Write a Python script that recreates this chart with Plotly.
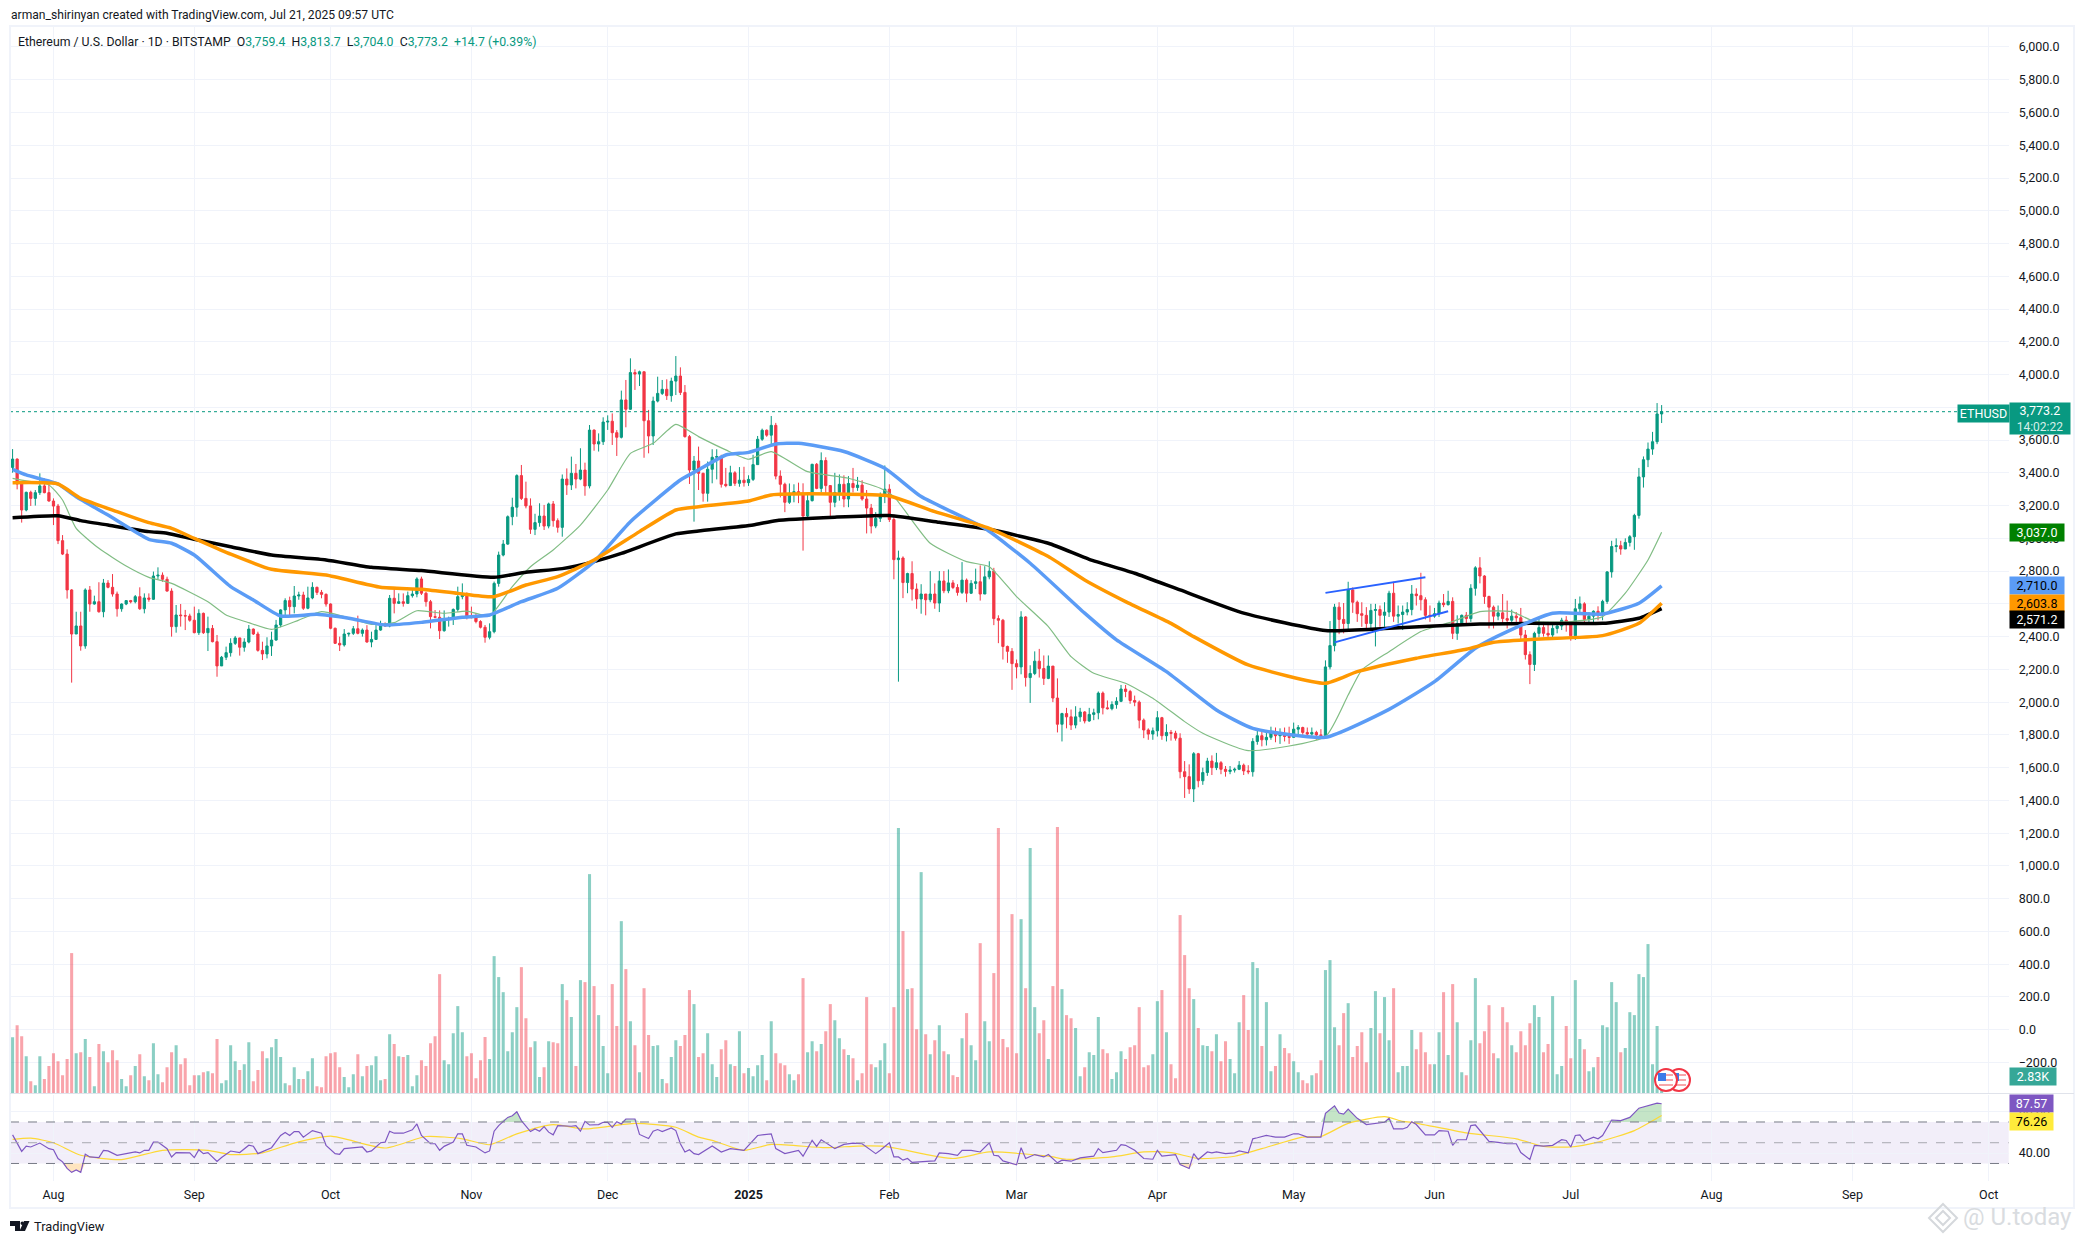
import pandas as pd
import plotly.graph_objects as go

W = 2084
H = 1244

# daily candles, first one is 2024-07-23
first_open = 3433
closes = [
    3484, 3332, 3173, 3281, 3244, 3279, 3320, 3279, 3228, 3197,
    2986, 2904, 2685, 2416, 2465, 2343, 2685, 2599, 2613, 2552,
    2727, 2701, 2660, 2570, 2599, 2620, 2613, 2644, 2570, 2636,
    2628, 2770, 2775, 2750, 2678, 2461, 2532, 2528, 2526, 2500,
    2424, 2542, 2424, 2450, 2369, 2221, 2274, 2302, 2359, 2392,
    2335, 2367, 2446, 2416, 2316, 2294, 2343, 2379, 2471, 2563,
    2620, 2583, 2648, 2654, 2573, 2636, 2701, 2670, 2658, 2599,
    2451, 2359, 2349, 2416, 2420, 2448, 2420, 2440, 2367, 2383,
    2440, 2475, 2465, 2634, 2603, 2613, 2603, 2650, 2660, 2752,
    2665, 2613, 2522, 2518, 2436, 2505, 2511, 2566, 2644, 2660,
    2518, 2516, 2492, 2457, 2396, 2430, 2725, 2898, 2965, 3132,
    3190, 3383, 3244, 3198, 3055, 3096, 3136, 3075, 3210, 3108,
    3067, 3362, 3326, 3397, 3362, 3417, 3320, 3661, 3576, 3590,
    3710, 3715, 3645, 3617, 3845, 3788, 4012, 4003, 4017, 3718,
    3625, 3838, 3885, 3910, 3871, 3960, 3991, 3891, 3621, 3417,
    3472, 3397, 3275, 3422, 3495, 3499, 3330, 3322, 3400, 3336,
    3355, 3340, 3360, 3450, 3605, 3660, 3630, 3690, 3380, 3330,
    3220, 3275, 3285, 3270, 3136, 3230, 3452, 3305, 3475, 3322,
    3220, 3280, 3330, 3240, 3335, 3310, 3325, 3240, 3185, 3075,
    3122, 3255, 3300, 3115, 2870, 2880, 2730, 2785, 2690, 2630,
    2660, 2625, 2660, 2605, 2740, 2680, 2728, 2700, 2670, 2745,
    2665, 2725, 2735, 2660, 2765, 2800, 2510, 2500, 2340, 2310,
    2235, 2215, 2520, 2150, 2175, 2250, 2205, 2145, 2220, 2025,
    1865, 1930, 1910, 1860, 1910, 1940, 1885, 1925, 1935, 2055,
    1965, 1960, 1985, 2005, 2080, 2065, 2010, 2000, 1890, 1830,
    1805, 1825, 1905, 1795, 1815, 1810, 1780, 1575, 1545, 1470,
    1685, 1520, 1570, 1640, 1600, 1630, 1590, 1577, 1585, 1590,
    1615, 1580, 1575, 1760, 1795, 1770, 1785, 1820, 1795, 1800,
    1790, 1785, 1835, 1845, 1815, 1805, 1815, 1800, 1795, 2215,
    2345, 2580, 2505, 2480, 2685, 2610, 2540, 2530, 2480, 2560,
    2565, 2530, 2550, 2665, 2525, 2535, 2550, 2565, 2660, 2650,
    2625, 2530, 2525, 2540, 2605, 2595, 2615, 2420, 2480, 2530,
    2510, 2695, 2820, 2770, 2645, 2580, 2525, 2545, 2510, 2500,
    2525, 2515, 2410, 2290, 2230, 2420, 2455, 2420, 2410, 2450,
    2465, 2500, 2485, 2405, 2570, 2600, 2505, 2525, 2555, 2535,
    2615, 2795, 2950, 2955, 2935, 2975, 3010, 3140, 3375, 3480,
    3545, 3590, 3759.4, 3773.2,
]
highs = [
    3545, 3488, 3346, 3285, 3291, 3295, 3397, 3366, 3356, 3244,
    3210, 3020, 2933, 2690, 2552, 2552, 2695, 2709, 2650, 2732,
    2752, 2745, 2782, 2675, 2603, 2620, 2624, 2654, 2701, 2664,
    2664, 2797, 2823, 2792, 2766, 2695, 2593, 2599, 2563, 2540,
    2583, 2567, 2547, 2522, 2471, 2410, 2282, 2339, 2390, 2404,
    2390, 2390, 2471, 2450, 2430, 2369, 2396, 2430, 2502, 2567,
    2634, 2644, 2709, 2674, 2674, 2705, 2732, 2705, 2685, 2664,
    2603, 2455, 2400, 2446, 2424, 2465, 2528, 2450, 2470, 2430,
    2470, 2497, 2487, 2654, 2695, 2664, 2664, 2675, 2685, 2762,
    2766, 2674, 2624, 2562, 2560, 2560, 2522, 2572, 2705, 2725,
    2670, 2583, 2542, 2500, 2471, 2481, 2736, 2919, 2990, 3140,
    3248, 3391, 3448, 3346, 3244, 3150, 3214, 3204, 3218, 3228,
    3122, 3390, 3427, 3499, 3454, 3550, 3462, 3692, 3665, 3641,
    3739, 3751, 3763, 3661, 3902, 3967, 4099, 4032, 4024, 4012,
    3784, 3865, 3987, 3967, 3971, 3981, 4113, 4044, 3936, 3631,
    3503, 3560, 3401, 3469, 3544, 3544, 3510, 3430, 3443, 3410,
    3435, 3437, 3385, 3510, 3625, 3670, 3665, 3747, 3705, 3415,
    3340, 3335, 3330, 3340, 3336, 3280, 3455, 3460, 3525, 3495,
    3325, 3400, 3390, 3385, 3380, 3430, 3375, 3355, 3295, 3210,
    3160, 3280, 3445, 3330, 3145, 2925, 2890, 2790, 2860, 2725,
    2720, 2655, 2800, 2725, 2800, 2800, 2810, 2745, 2720, 2855,
    2755, 2745, 2815, 2835, 2830, 2860, 2820, 2530, 2508, 2345,
    2330, 2260, 2555, 2525, 2225, 2310, 2325, 2285, 2285, 2215,
    2145, 1935, 1965, 1955, 1975, 1965, 1945, 1965, 1960, 2065,
    2065, 2010, 2005, 2030, 2105, 2105, 2075, 2040, 2010, 1900,
    1840, 1845, 1945, 1910, 1865, 1830, 1825, 1810, 1640, 1620,
    1695, 1690, 1600, 1660, 1675, 1690, 1640, 1610, 1610, 1600,
    1640, 1625, 1615, 1780, 1835, 1820, 1830, 1850, 1845, 1840,
    1845, 1850, 1875, 1860, 1850, 1845, 1845, 1825, 1835, 2255,
    2495, 2600, 2610, 2605, 2735, 2700, 2620, 2610, 2580, 2600,
    2600, 2590, 2610, 2680, 2735, 2590, 2590, 2610, 2715, 2695,
    2790, 2640, 2590, 2575, 2620, 2660, 2680, 2640, 2530, 2535,
    2550, 2720, 2830, 2885, 2775, 2650, 2590, 2590, 2660, 2620,
    2565, 2550, 2575, 2440, 2310, 2430, 2510, 2490, 2490, 2480,
    2475, 2515, 2525, 2495, 2630, 2645, 2610, 2550, 2560, 2585,
    2625, 2800, 2985, 3000, 2985, 3000, 3020, 3150, 3430, 3500,
    3585, 3650, 3826, 3813.7,
]
lows = [
    3401, 3299, 3096, 3165, 3198, 3200, 3265, 3275, 3224, 3081,
    2965, 2898, 2632, 2119, 2416, 2314, 2326, 2552, 2595, 2546,
    2518, 2695, 2644, 2522, 2552, 2592, 2603, 2603, 2563, 2542,
    2613, 2624, 2750, 2735, 2675, 2400, 2424, 2461, 2440, 2491,
    2420, 2410, 2416, 2312, 2365, 2155, 2221, 2257, 2278, 2349,
    2284, 2308, 2359, 2410, 2308, 2257, 2267, 2282, 2375, 2457,
    2526, 2526, 2542, 2625, 2563, 2567, 2628, 2654, 2634, 2583,
    2445, 2355, 2312, 2339, 2400, 2410, 2414, 2400, 2363, 2335,
    2380, 2436, 2460, 2457, 2542, 2599, 2583, 2599, 2638, 2640,
    2654, 2583, 2450, 2512, 2385, 2430, 2461, 2471, 2552, 2628,
    2505, 2512, 2481, 2450, 2363, 2383, 2420, 2705, 2890, 2960,
    3080, 3132, 3234, 3183, 3027, 3020, 3071, 3051, 3061, 3071,
    3035, 3010, 3265, 3295, 3305, 3355, 3260, 3305, 3535, 3530,
    3570, 3662, 3570, 3503, 3610, 3678, 3784, 3906, 3930, 3492,
    3519, 3570, 3830, 3875, 3845, 3834, 3875, 3875, 3615, 3332,
    3102, 3295, 3224, 3224, 3336, 3360, 3310, 3312, 3320, 3320,
    3315, 3316, 3320, 3350, 3450, 3595, 3620, 3575, 3360, 3250,
    3160, 3210, 3220, 3215, 2925, 3130, 3225, 3300, 3280, 3270,
    3120, 3190, 3230, 3190, 3190, 3280, 3290, 3230, 3030, 3030,
    3062, 3100, 3215, 3100, 2750, 2125, 2635, 2665, 2620, 2570,
    2540, 2530, 2610, 2570, 2550, 2665, 2665, 2690, 2650, 2660,
    2610, 2660, 2690, 2620, 2660, 2750, 2470, 2360, 2260, 2240,
    2075, 2145, 2170, 2095, 1995, 2165, 2150, 2105, 2140, 2000,
    1815, 1760, 1840, 1830, 1840, 1880, 1870, 1880, 1890, 1895,
    1925, 1955, 1950, 1960, 2000, 2030, 1990, 1975, 1840, 1780,
    1770, 1770, 1790, 1770, 1760, 1765, 1765, 1535, 1415, 1440,
    1390, 1480, 1495, 1550, 1555, 1585, 1560, 1545, 1560, 1570,
    1585, 1555, 1560, 1545, 1740, 1730, 1735, 1770, 1755, 1745,
    1760, 1745, 1790, 1800, 1800, 1790, 1795, 1770, 1780, 1780,
    2200, 2310, 2415, 2420, 2430, 2545, 2490, 2460, 2440, 2440,
    2340, 2460, 2460, 2520, 2490, 2480, 2440, 2530, 2530, 2590,
    2560, 2505, 2490, 2515, 2520, 2580, 2590, 2385, 2380, 2470,
    2470, 2490, 2650, 2725, 2600, 2450, 2450, 2500, 2480, 2450,
    2470, 2490, 2380, 2260, 2110, 2190, 2395, 2400, 2390, 2380,
    2420, 2440, 2430, 2375, 2380, 2540, 2480, 2475, 2480, 2500,
    2500, 2600, 2760, 2915, 2900, 2935, 2950, 2930, 3120, 3310,
    3435, 3510, 3575, 3704,
]
# volume in thousands
volumes = [
    48.1, 58.4, 49, 31.9, 10.5, 7.1, 31.9, 12.3, 23.4, 34.5,
    27.6, 15.7, 29.4, 120, 34.5, 35.3, 46.5, 31.1, 6.3, 42.2,
    36.2, 26.8, 37, 28.5, 12.3, 6.3, 15.7, 23.4, 33.6, 14.8,
    11.4, 43, 16.5, 9.7, 22.5, 35.3, 41.3, 25.1, 30.2, 7.1,
    15.7, 15.7, 18.2, 19.1, 17.4, 46.5, 8.8, 11.4, 41.3, 27.6,
    20, 25.1, 43.9, 10.5, 20, 36.2, 30.2, 39.6, 46.5, 31.1,
    8.8, 7.1, 22.5, 12.3, 12.3, 19.1, 30.2, 6.3, 5.4, 31.9,
    34.5, 35.3, 22.5, 14, 5.4, 16.5, 33.6, 14.8, 23.4, 24.2,
    31.9, 11.4, 12.3, 50.7, 42.2, 31.9, 31.1, 32.8, 6.3, 15.7,
    28.5, 23.4, 43, 49, 102, 28.5, 25.1, 51.6, 74.7, 52.4,
    31.9, 34.5, 13.1, 28.5, 48.2, 29.4, 117.4, 99.5, 86.6, 36.2,
    52.4, 73.8, 108, 64.4, 39.6, 44.7, 14, 22.5, 44.7, 43.9,
    43, 93.5, 79.8, 65.3, 23.4, 96.9, 95.2, 187.5, 91.8, 67,
    40.5, 17.4, 93.5, 57.6, 147.3, 106.3, 61.8, 41.3, 18.2, 90,
    49.9, 40.5, 41.3, 12.3, 8.8, 31.1, 45.6, 40.5, 49.9, 88.4,
    76.4, 31.1,
    34.5, 51.6, 25.1, 14, 37.9, 45.6, 25.1, 23.4, 53.3, 17.4,
    21.7, 14.8, 24.2, 32.8, 11.4, 61.8, 34.5, 25.9, 24.2, 16.5,
    11.4, 16.5, 98.6, 35.3, 44.7, 36.2, 42.2, 53.3, 76.4, 62.7,
    47.3, 37.9, 32.8, 30.2, 11.4, 17.4, 82.4, 25.1, 22.5, 28.5,
    43, 17.4, 73.8, 226.9, 138.8, 89.2, 90, 55, 189.2, 50.7,
    33.6, 45.6, 58.4, 36.2, 33.6, 15.7, 14, 47.3, 68.7, 41.3,
    28.5, 128.5, 61.8, 44.7, 102.9, 226.9, 46.5, 39.6, 153.3, 34.5,
    149, 90, 209.8, 73.8, 51.6, 62.7, 29.4, 91.8, 227.7, 89.2,
    67, 64.4, 55.9, 14.8, 22.5, 35.3, 32.8, 65.3, 37.9, 34.5,
    12.3, 18.2, 36.2, 29.4, 39.6, 41.3, 73.8, 22.5, 24.2, 33.6,
    78.9, 88.4, 52.4, 25.1, 13.1, 152.5, 118.3, 90, 80.7, 55.9,
    41.3, 40.5, 36.2, 50.7, 27.6, 44.7, 29.4, 17.4, 61, 84.1,
    54.2, 112.3, 107.2, 40.5, 78.1, 19.1, 23.4, 50.7, 38.8, 34.5,
    27.6, 18.2, 11.4, 8.8, 15.7, 17.4, 28.5, 105.5, 114, 56.7,
    41.3, 68.7, 77.2, 31.1, 40.5, 52.4, 26.8, 55.9, 87.5, 51.6,
    82.4, 45.6, 90, 18.2,
    23.4, 23.4, 54.2, 37.9, 52.4, 35.3, 25.1, 25.1, 52.4, 86.6,
    32.8, 93.5, 61, 18.2, 15.7, 45.6, 98.6, 43, 53.3, 75.5,
    34.5, 30.2, 73.8, 61, 41.3, 35.3, 53.3, 41.3, 60.1, 75.5,
    65.3, 35.3, 42.2, 83.2, 16.5, 23.4, 57.6, 30.2, 96.9, 46.5,
    37.9, 19.1, 22.5, 31.1, 58.4, 56.7, 95.2, 78.1, 35.3, 38.8,
    69.5, 67, 102, 99.5, 127.7, 25.1, 57.6, 2.83,
]

# moving averages, sampled by candle number
ma_black_days = [0, 10, 15, 21, 30, 34, 40, 48, 57, 69, 79, 90, 106, 113, 121, 128, 134, 146,
                 151, 163, 168, 181, 193, 204, 215, 228, 237, 247, 257, 271, 289,
                 303, 323, 334, 350, 358, 363]
ma_black = [3126, 3138, 3108, 3081, 3041, 3031, 2994, 2949, 2898, 2868, 2823, 2803, 2762, 2793, 2815, 2858, 2908, 3027,
            3045, 3082, 3108, 3129, 3139, 3098, 3055, 2970, 2872, 2787, 2685, 2543, 2437,
            2451, 2477, 2481, 2481, 2512, 2571.2]
ma_orange_days = [0, 10, 15, 23, 30, 35, 40, 48, 57, 69, 81, 90, 98, 106, 113, 120, 128, 138, 146, 151,
                  162, 167, 181, 193, 203, 215, 228, 236, 245, 255, 260, 272, 289,
                  296, 309, 320, 326, 335, 350, 358, 363]
ma_orange = [3340, 3332, 3244, 3163, 3096, 3061, 3000, 2904, 2811, 2776, 2701, 2689, 2664, 2644, 2715, 2766, 2868, 3041, 3173, 3193,
             3228, 3265, 3271, 3259, 3163, 3061, 2889, 2746, 2614, 2481, 2400, 2227, 2115,
             2186, 2268, 2323, 2365, 2384, 2406, 2481, 2603.8]
ma_blue_days = [0, 3, 10, 14, 21, 30, 35, 40, 48, 53, 59, 67, 74, 82, 90, 99, 105, 112, 120, 128, 136, 147,
                151, 157, 162, 168, 173, 183, 192, 200, 214, 224, 236, 243, 254, 265, 273, 289,
                303, 313, 322, 329, 339, 350, 358, 363]
ma_blue = [3421, 3387, 3332, 3254, 3142, 2994, 2970, 2898, 2705, 2624, 2526, 2536, 2512, 2471, 2487, 2518, 2532, 2613, 2695, 2858, 3102, 3356,
           3418, 3509, 3525, 3576, 3580, 3530, 3428, 3255, 3061, 2848, 2543, 2380, 2186, 1952, 1840, 1785,
           1956, 2125, 2329, 2430, 2543, 2538, 2604, 2710]
ma_green_days = [0, 2, 8, 11, 14, 19, 25, 30, 35, 43, 47, 52, 57, 63, 68, 73, 79, 84, 89, 95, 100, 105, 110, 114, 119, 125, 131, 136, 141, 146,
                 151, 157, 162, 167, 175, 184, 191, 194, 202, 210, 215, 221, 228, 233, 238, 245, 251, 258, 262, 272, 289,
                 294, 297, 303, 310, 317, 323, 330, 335, 343, 350, 355, 360, 363]
ma_green = [3366, 3356, 3326, 3234, 3061, 2939, 2831, 2762, 2725, 2613, 2532, 2485, 2444, 2501, 2552, 2522, 2475, 2485, 2558, 2542, 2556, 2526, 2705, 2827, 2929, 3081, 3295, 3519, 3580, 3696,
            3621, 3540, 3483, 3530, 3407, 3367, 3306, 3255, 2970, 2858, 2827, 2644, 2461, 2278, 2176, 2115, 2024, 1881, 1810, 1704, 1790,
            2044, 2196, 2308, 2431, 2492, 2553, 2553, 2492, 2492, 2522, 2665, 2868, 3037]

rsi_days = [0, 1, 2, 3, 4, 6, 8, 9, 10, 11, 12, 13, 14, 15, 16, 17, 19, 20, 21, 23,
            27, 28, 29, 30, 31, 32, 34, 35, 36, 39, 40, 41, 42, 43, 45, 46, 48, 50, 52, 53,
            54, 57, 59, 60, 61, 62, 63, 64, 66, 68, 69, 71, 72, 73, 75, 77, 78, 79, 81, 82,
            83, 84, 86, 88, 89, 90, 92, 93, 94, 95, 97, 98, 99, 100, 102, 104, 105, 106, 107, 109,
            110, 111, 112, 114, 115, 116, 117, 118, 119, 120, 123, 124, 125, 126, 127, 129, 130, 131, 132, 133,
            134, 135, 137, 138, 140, 141, 142, 143, 145, 146, 147, 148, 149, 150,
            151, 154, 156, 158, 161, 164, 167, 168, 170, 173, 174, 176, 177, 178, 181, 183, 185, 187, 190, 191,
            193, 194, 195, 196, 197, 198, 202, 203, 204, 206, 208, 209, 211, 213, 215, 216, 217, 218, 221, 222,
            223, 225, 227, 228, 230, 231, 233, 235, 238, 239, 240, 243, 244, 245, 247, 249, 251, 252, 253, 256,
            257, 259, 260, 261, 263, 264, 265, 267, 269, 270, 272, 273, 274, 276, 278, 280, 282, 283, 285, 288,
            289, 291, 292, 293, 294, 296, 298, 300, 302, 303, 304, 306,
            307, 308, 309, 311, 313, 314, 316, 317, 318, 320, 321, 322, 323, 325, 327, 329, 331, 332, 334, 335,
            337, 339, 341, 342, 343, 344, 345, 346, 348, 349, 350, 352, 354, 356, 358, 360, 362, 363]
rsi = [57.6, 49, 41.7, 46.8, 45.9, 49.7, 44.3, 43.3, 34.8, 31.6, 25.2, 21.4, 23.7, 21.4, 38.9, 36.3, 35.7, 42.7, 42.1, 37.9,
       41.1, 40.2, 42.7, 42.7, 50.6, 50.6, 44.3, 36.3, 40.5, 40.2, 35.7, 43.3, 39.5, 40.5, 31.9, 35.7, 42, 40.5, 47.6, 46.7,
       39.5, 45.2, 57, 59.8, 57, 60.8, 60.8, 55.4, 61.7, 59.2, 47.5, 39.5, 38.9, 44.3, 45.2, 45.9, 41.1, 42.1, 50, 50.6,
       61.1, 59.2, 59.2, 62.4, 68.1, 57, 49, 49, 42.7, 46.5, 50.6, 58.6, 58.6, 47.5, 45.9, 40.2, 42.1, 61.1, 66.5, 74.4,
       76, 79.8, 71.3, 60.8, 63.3, 61.1, 65.5, 60.2, 57.6, 66.5, 65.9, 66.5, 61.1, 70.6, 67.1, 67.5, 69.7, 69.7, 64.9, 70.3,
       68.1, 72.9, 72.9, 58, 54, 61.1, 62.7, 60.8, 64.3, 61.7, 49, 41.1, 43.3, 39.5,
       38.6, 46.8, 41.1, 44.3, 42.7, 57, 58.6, 44.3, 39.5, 42.7, 37, 52.2, 46.5, 52.9, 44.3, 48.4, 49.7, 49, 39.5, 42.7,
       50, 36.3, 36.3, 33.2, 34.8, 31, 32.2, 32.5, 40.2, 39.5, 37.9, 42.7, 42.7, 41.1, 50, 37.9, 37.3, 32.5, 28.7, 45.2,
       34.8, 38.6, 36.3, 38.6, 30.6, 33.2, 32.2, 35.4, 37, 44.3, 40.5, 42.7, 48.1, 47.5, 42.7, 34.8, 34.1, 42.7, 37, 38.6,
       29, 25.2, 39.5, 33.8, 41.1, 40.2, 41.1, 39.5, 40.2, 42.1, 40.2, 53.8, 54.8, 57, 55.4, 55.4, 58.6, 58.6, 55.4, 55.4,
       78.3, 85.6, 78.6, 77.6, 82.4, 73.5, 67.5, 68.7, 69.7, 73.5, 63.3, 63.3,
       64.9, 70.3, 67.5, 57.6, 57.6, 61.7, 61.1, 47.5, 52.9, 52.9, 66.5, 67.1, 61.7, 51.3, 50.3, 49, 49, 40.5, 33.8, 47.5,
       46.8, 47.5, 52.9, 52.2, 45.9, 57, 57.6, 51.6, 55.4, 53.8, 57, 71.9, 71.3, 74.4, 83.3, 85.6, 88.1, 87.57]
rsi_ma_days = [0, 4, 9, 15, 24, 33, 43, 48, 55, 62, 70, 82, 91, 99, 105, 111, 119, 126, 137, 146, 151,
               154, 161, 167, 179, 186, 192, 207, 215, 228, 232, 242, 249, 255, 261, 269, 275, 284, 288, 294, 302, 306,
               308, 320, 331, 337, 343, 349, 357, 363]
rsi_ma = [53.2, 54.4, 50, 37.9, 33.8, 42.7, 42.7, 38.6, 40.2, 49.7, 56.3, 44.9, 56, 53.8, 48.1, 58.6, 67.5, 63.3, 68.7, 64.9, 55.4,
          52.2, 42.7, 48.4, 45.2, 46.8, 46.5, 34.8, 41.1, 37, 34.1, 36.3, 41.1, 40.5, 34.8, 37, 44.3, 55.4, 56, 68.7, 75.1, 70.6,
          69.7, 59.5, 53.8, 46.5, 45.9, 50.6, 61.7, 76.26]

# axis labels
price_ticks = list(range(-200, 6200, 200))
month_ticks = ['2024-08-01', '2024-09-01', '2024-10-01', '2024-11-01', '2024-12-01', '2025-01-01', '2025-02-01',
               '2025-03-01', '2025-04-01', '2025-05-01', '2025-06-01', '2025-07-01', '2025-08-01', '2025-09-01', '2025-10-01']
month_labels = ['Aug', 'Sep', 'Oct', 'Nov', 'Dec', '<b>2025</b>', 'Feb', 'Mar', 'Apr', 'May', 'Jun', 'Jul', 'Aug', 'Sep', 'Oct']

assert len(closes) == len(highs) == len(lows) == len(volumes)
assert len(ma_black_days) == len(ma_black) and len(ma_orange_days) == len(ma_orange)
assert len(ma_blue_days) == len(ma_blue) and len(ma_green_days) == len(ma_green)
assert len(rsi_days) == len(rsi) and len(rsi_ma_days) == len(rsi_ma)

UP = '#089981'
DOWN = '#F23645'
GRID = '#f0f3fa'
TEXT = '#131722'
FONT = 'Roboto'

dates = pd.date_range('2024-07-23', periods=len(closes), freq='D')
opens = [first_open] + closes[:-1]
vol_colors = ['rgba(8,153,129,0.47)' if c >= o else 'rgba(242,54,69,0.45)' for o, c in zip(opens, closes)]


def px_x(v):
    return v / W


def px_y(v):
    return 1 - v / H


def on(days):
    return [dates[d] for d in days]


fig = go.Figure()
fig.add_bar(x=dates, y=volumes, marker=dict(color=vol_colors, line_width=0), width=58000000, yaxis='y')
fig.add_candlestick(x=dates, open=opens, high=highs, low=lows, close=closes, yaxis='y2',
                    increasing=dict(line=dict(color=UP, width=1), fillcolor=UP),
                    decreasing=dict(line=dict(color=DOWN, width=1), fillcolor=DOWN))
fig.add_scatter(x=on(ma_green_days), y=ma_green, yaxis='y2', mode='lines', line=dict(color='#81bd84', width=1.2, shape='spline', smoothing=0.5))
fig.add_scatter(x=on(ma_black_days), y=ma_black, yaxis='y2', mode='lines', line=dict(color='#000000', width=3.5, shape='spline', smoothing=0.5))
fig.add_scatter(x=on(ma_blue_days), y=ma_blue, yaxis='y2', mode='lines', line=dict(color='#5b9cf6', width=3.5, shape='spline', smoothing=0.5))
fig.add_scatter(x=on(ma_orange_days), y=ma_orange, yaxis='y2', mode='lines', line=dict(color='#ff9800', width=3.5, shape='spline', smoothing=0.5))
fig.add_scatter(x=['2025-05-08', '2025-05-30'], y=[2667, 2762], yaxis='y2', mode='lines', line=dict(color='#2962ff', width=2))
fig.add_scatter(x=['2025-05-10', '2025-06-04'], y=[2365, 2555], yaxis='y2', mode='lines', line=dict(color='#2962ff', width=2))

# rsi pane, fills beyond the bands first
rsi_x = on(rsi_days)
fig.add_scatter(x=rsi_x, y=[70] * len(rsi), yaxis='y3', mode='lines', line=dict(width=0))
fig.add_scatter(x=rsi_x, y=[max(v, 70) for v in rsi], yaxis='y3', mode='lines', line=dict(width=0),
                fill='tonexty', fillcolor='rgba(76,175,80,0.32)')
fig.add_scatter(x=rsi_x, y=[30] * len(rsi), yaxis='y3', mode='lines', line=dict(width=0))
fig.add_scatter(x=rsi_x, y=[min(v, 30) for v in rsi], yaxis='y3', mode='lines', line=dict(width=0),
                fill='tonexty', fillcolor='rgba(255,152,0,0.25)')
fig.add_scatter(x=on(rsi_ma_days), y=rsi_ma, yaxis='y3', mode='lines', line=dict(color='#fdd835', width=1.2, shape='spline', smoothing=0.6))
fig.add_scatter(x=rsi_x, y=rsi, yaxis='y3', mode='lines', line=dict(color='#7e57c2', width=1.2))

shapes = [
    # rsi band and levels
    dict(type='rect', xref='x domain', yref='y3', x0=0, x1=1, y0=30, y1=70, fillcolor='rgba(126,87,194,0.1)', line_width=0, layer='below'),
    dict(type='line', xref='x domain', yref='y3', x0=0, x1=1, y0=70, y1=70, line=dict(color='#787b86', width=1, dash='dash')),
    dict(type='line', xref='x domain', yref='y3', x0=0, x1=1, y0=50, y1=50, line=dict(color='#a8a9b0', width=1, dash='dash')),
    dict(type='line', xref='x domain', yref='y3', x0=0, x1=1, y0=30, y1=30, line=dict(color='#787b86', width=1, dash='dash')),
    # last price
    dict(type='line', xref='x domain', yref='y2', x0=0, x1=1, y0=closes[-1], y1=closes[-1], line=dict(color=UP, width=1, dash='dot')),
    # chart frame
    dict(type='rect', xref='paper', yref='paper', x0=px_x(10), x1=px_x(2074), y0=px_y(1208), y1=px_y(26), line=dict(color=GRID, width=2)),
    dict(type='line', xref='paper', yref='paper', x0=px_x(10), x1=px_x(2074), y0=px_y(1093.5), y1=px_y(1093.5), line=dict(color='#e0e3eb', width=1)),
]


def pane_path(points):
    return 'M' + ' L'.join(f'{px_x(a)},{px_y(b)}' for a, b in points) + ' Z'


# TradingView logo
for pts in ([(10, 1221), (20, 1221), (20, 1231), (15, 1231), (15, 1226), (10, 1226)],
            [(24, 1221), (29.5, 1221), (25, 1231), (19.5, 1231)]):
    shapes.append(dict(type='path', xref='paper', yref='paper', path=pane_path(pts), fillcolor=TEXT, line_width=0))
shapes.append(dict(type='circle', xref='paper', yref='paper', x0=px_x(20.5), x1=px_x(24), y0=px_y(1225), y1=px_y(1221.5), fillcolor=TEXT, line_width=0))

# watermark diamond
for size in (14, 7):
    shapes.append(dict(type='path', xref='paper', yref='paper',
                       path=pane_path([(1943, 1218 - size), (1943 + size, 1218), (1943, 1218 + size), (1943 - size, 1218)]),
                       line=dict(color='#d5d8dc', width=2)))

# flags at the end of the volume pane
for cx in (1679, 1666):
    shapes.append(dict(type='circle', xref='paper', yref='paper', x0=px_x(cx - 11), x1=px_x(cx + 11), y0=px_y(1091), y1=px_y(1069),
                       fillcolor='#ffffff', line=dict(color='#f23645', width=2)))
    for dy in (-5, 0, 5):
        shapes.append(dict(type='line', xref='paper', yref='paper', x0=px_x(cx - 7), x1=px_x(cx + 7), y0=px_y(1080 + dy), y1=px_y(1080 + dy),
                           line=dict(color='#f7a6a9', width=2)))
    shapes.append(dict(type='rect', xref='paper', yref='paper', x0=px_x(cx - 8), x1=px_x(cx), y0=px_y(1081), y1=px_y(1073),
                       fillcolor='#3d7be8', line_width=0))


def tag(text, yref, y, bg, color='#ffffff', x=2009, width=54, height=17, yshift=0, size=12.5):
    return dict(text=text, xref='paper', yref=yref, x=px_x(x), y=y, xanchor='left', yanchor='middle', showarrow=False,
                bgcolor=bg, width=width, height=height, yshift=yshift, align='center', borderpad=0,
                font=dict(family=FONT, size=size, color=color))


green_span = "<span style='color:#089981'>"
legend_text = ("Ethereum / U.S. Dollar · 1D · BITSTAMP&nbsp;&nbsp;"
               f"O{green_span}3,759.4</span>&nbsp;&nbsp;H{green_span}3,813.7</span>&nbsp;&nbsp;"
               f"L{green_span}3,704.0</span>&nbsp;&nbsp;C{green_span}3,773.2</span>&nbsp;&nbsp;{green_span}+14.7 (+0.39%)</span>")

annotations = [
    dict(text='arman_shirinyan created with TradingView.com, Jul 21, 2025 09:57 UTC', xref='paper', yref='paper', x=px_x(8.5), y=px_y(15),
         xanchor='left', yanchor='middle', showarrow=False, font=dict(family=FONT, size=12.1, color=TEXT)),
    dict(text=legend_text, xref='paper', yref='paper', x=px_x(16), y=px_y(42), xanchor='left', yanchor='middle', showarrow=False,
         font=dict(family=FONT, size=12.3, color=TEXT)),
    dict(text='TradingView', xref='paper', yref='paper', x=px_x(31.5), y=px_y(1226), xanchor='left', yanchor='middle', showarrow=False,
         font=dict(family=FONT, size=12.8, color=TEXT)),
    dict(text='@ U.today', xref='paper', yref='paper', x=px_x(1961), y=px_y(1217), xanchor='left', yanchor='middle', showarrow=False,
         font=dict(family=FONT, size=24, color='#d9dce0')),
    tag('ETHUSD', 'y2', closes[-1], UP, x=1957, width=51, yshift=-2),
    tag("3,773.2<br><span style='font-size:12px;color:#d6efe9'>14:02:22</span>", 'y2', closes[-1], UP, width=60, height=31, yshift=-7),
    tag('3,037.0', 'y2', 3037, '#008000'),
    tag('2,710.0', 'y2', 2710, '#5b9cf6', color='#000000'),
    tag('2,603.8', 'y2', 2603.8, '#ff9800', color='#000000'),
    tag('2,571.2', 'y2', 2571.2, '#000000', yshift=-11),
    tag('2.83K', 'paper', px_y(1076.5), '#36a797', width=46),
    tag('87.57', 'y3', 87.57, '#7e57c2', width=43),
    tag('76.26', 'y3', 76.26, '#ffeb3b', color='#000000', width=43, yshift=-6),
]

fig.update_layout(
    width=W, height=H,
    margin=dict(l=0, r=0, t=0, b=0),
    paper_bgcolor='#ffffff', plot_bgcolor='#ffffff',
    showlegend=False,
    barmode='overlay',
    font=dict(family=FONT, size=12.5, color=TEXT),
    shapes=shapes,
    annotations=annotations,
    xaxis=dict(domain=[px_x(10), px_x(2008.7)], anchor='y3', type='date',
               range=['2024-07-22 10:19', '2025-10-05 09:36'],
               rangeslider=dict(visible=False),
               tickmode='array', tickvals=month_ticks, ticktext=month_labels, tickangle=0,
               showgrid=True, gridcolor=GRID, gridwidth=1, zeroline=False, showline=False, ticks='',
               ticklabelstandoff=5, tickfont=dict(size=12.5)),
    yaxis=dict(domain=[px_y(1093.5), px_y(27)], range=[0, 911.5], visible=False, fixedrange=True),
    yaxis2=dict(domain=[px_y(1093.5), px_y(27)], range=[-389.5, 6122], overlaying='y', anchor='x', side='right',
                tickmode='array', tickvals=price_ticks, tickformat=',.1f',
                showgrid=True, gridcolor=GRID, gridwidth=1, zeroline=False, showline=False, ticks='',
                ticklabelstandoff=9, automargin=False),
    yaxis3=dict(domain=[px_y(1180.7), px_y(1094.5)], range=[13.4, 96.5], anchor='x', side='right',
                tickmode='array', tickvals=[40, 80], tickformat='.2f',
                showgrid=True, gridcolor=GRID, gridwidth=1, zeroline=False, showline=False, ticks='',
                ticklabelstandoff=9, automargin=False),
)

fig.write_html("out.html", config={'displayModeBar': False}, post_script="document.body.style.margin='0';")
